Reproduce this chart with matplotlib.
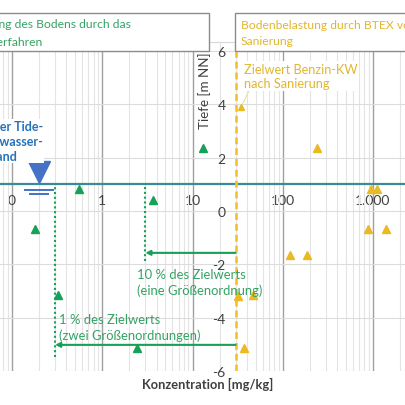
import matplotlib
matplotlib.use("Agg")
import matplotlib.pyplot as plt
import numpy as np
from matplotlib.patches import Rectangle
from matplotlib.ticker import LogLocator, NullFormatter
from matplotlib.transforms import offset_copy

plt.rcParams['font.family'] = ['Lato', 'DejaVu Sans']
plt.rcParams['axes.unicode_minus'] = False

# data
green_conc = [0.18, 0.32, 0.55, 2.4, 3.65, 13.1]
green_depth = [-0.67, -3.15, 0.83, -5.14, 0.42, 2.37]
yellow_conc = [240, 950, 1110, 880, 1390, 120, 186, 32, 47, 37]
yellow_depth = [2.37, 0.83, 0.83, -0.67, -0.67, -1.65, -1.65, -3.18, -3.15, -5.14]
note_conc, note_depth = 34.5, 3.91

zielwert = 30            # Zielwert Benzin-KW [mg/kg]
water_level = 1.0        # m NN
water_symbol_conc = 0.2
arrow_depth_10 = -1.57
arrow_depth_1 = -5.02
dotted_end_10 = -1.87
dotted_end_1 = -5.47

x_ticks = [0.1, 1, 10, 100, 1000]
x_tick_labels = ["0", "1", "10", "100", "1.000"]
y_ticks = [-6, -4, -2, 0, 2, 4, 6]
y_tick_labels = ["-6", "-4", "-2", "0", "2", "4", "6"]

GREEN = '#16A058'
GREEN_TXT = '#34A264'
YELLOW = '#E9BA22'
YELLOW_TXT = '#E2B62E'
DARK = '#404040'

W = 406.0
def fx(px):
    return px / W
def fy(py):
    return 1 - py / W

fig = plt.figure(figsize=(4.06, 4.06), dpi=100)
ax = fig.add_axes([0, fy(372), 1, fy(43) - fy(372)])
ax.set_xscale('log')
ax.set_xlim(10 ** (-1 - 12 / 90.25), 10 ** (-1 + 394 / 90.25))
ax.set_ylim(-6, 6 + 9 / 26.64)

ax.set_xticks(x_ticks, labels=x_tick_labels)
ax.xaxis.set_minor_locator(LogLocator(base=10, subs=np.arange(2, 10), numticks=20))
ax.xaxis.set_minor_formatter(NullFormatter())
ax.set_yticks(y_ticks, labels=y_tick_labels)
ax.tick_params(which='both', length=0)
ax.tick_params(axis='x', pad=7, labelsize=10, labelcolor=DARK)
ax.tick_params(axis='y', pad=7, labelsize=10, labelcolor=DARK)
for lab in ax.get_xticklabels() + ax.get_yticklabels():
    lab.set_fontweight('bold')

ax.grid(which='major', axis='x', color='#A0A0A0', lw=1)
ax.grid(which='minor', axis='x', color='#E4E4E4', lw=0.8)
ax.grid(which='major', axis='y', color='#DCDCDC', lw=0.8)

ax.spines['bottom'].set_position(('data', water_level))
ax.spines['bottom'].set_color('#3A8A9A')
ax.spines['bottom'].set_linewidth(1.6)
ax.spines['left'].set_position(('data', zielwert))
ax.spines['left'].set_visible(False)
ax.spines['right'].set_visible(False)
ax.spines['top'].set_color('#D9D9D9')
ax.spines['top'].set_linewidth(0.8)

# data points
ax.plot(green_conc, green_depth, '^', color=GREEN, ms=6, ls='none', zorder=4)
ax.plot(yellow_conc, yellow_depth, '^', color=YELLOW, ms=6, ls='none', zorder=4)
ax.plot([note_conc], [note_depth], '^', color=YELLOW, ms=4, ls='none', zorder=4)

# target value line
ax.vlines(zielwert, y_ticks[0], y_ticks[-1], colors='#F5C12B', lw=1.9,
          linestyles=(0, (2.6, 1.5)), zorder=3)

# 10 % and 1 % markers
ax.vlines(zielwert * 0.1, dotted_end_10, water_level, colors=GREEN, lw=1.5,
          linestyles=(0, (1, 1.3)), zorder=3)
ax.vlines(zielwert * 0.01, dotted_end_1, water_level, colors=GREEN, lw=1.5,
          linestyles=(0, (1, 1.3)), zorder=3)
for frac, d in [(0.1, arrow_depth_10), (0.01, arrow_depth_1)]:
    ax.annotate('', xy=(zielwert * frac, d), xytext=(zielwert, d),
                arrowprops=dict(arrowstyle='-|>', color=GREEN, lw=1.5,
                                mutation_scale=7, shrinkA=0, shrinkB=0), zorder=3)

# water level symbol
t_up = offset_copy(ax.transData, fig=fig, x=0, y=12, units='dots')
ax.plot([water_symbol_conc], [water_level], 'v', color='#4472C4', ms=16,
        transform=t_up, zorder=5, clip_on=False)
t_l1 = offset_copy(ax.transData, fig=fig, x=0, y=-6, units='dots')
ax.plot([water_symbol_conc], [water_level], '_', color='#4472C4', ms=21.6,
        mew=1.4, transform=t_l1, zorder=5)
t_l2 = offset_copy(ax.transData, fig=fig, x=0, y=-10, units='dots')
ax.plot([water_symbol_conc], [water_level], '_', color='#4472C4', ms=14.4,
        mew=1.4, transform=t_l2, zorder=5)

# annotations
fig.text(fx(43), fy(142), "Mittlerer Tide-\nniedrigwasser-\nstand", ha='right',
         va='center', multialignment='center', fontsize=9, fontweight='bold',
         color='#2473B8', linespacing=1.3,
         bbox=dict(facecolor='white', edgecolor='none', pad=1))
fig.text(fx(137), fy(283), "10 % des Zielwerts\n(eine Größenordnung)", ha='left',
         va='center', fontsize=9.4, color=GREEN_TXT, linespacing=1.25)
fig.text(fx(59), fy(328), "1 % des Zielwerts\n(zwei Größenordnungen)", ha='left',
         va='center', fontsize=9.4, color=GREEN_TXT, linespacing=1.25)
ax.annotate("Zielwert Benzin-KW\nnach Sanierung", xy=(note_conc, note_depth),
            xytext=(fx(244), fy(77)), textcoords='figure fraction',
            ha='left', va='center', fontsize=9.2, color=YELLOW_TXT, linespacing=1.3,
            bbox=dict(facecolor='white', edgecolor='none', pad=1),
            arrowprops=dict(arrowstyle='-', color='#E9DDB0', lw=0.8,
                            shrinkA=0, shrinkB=2, relpos=(0.05, 0)), zorder=6)

# title boxes at the top
fig.add_artist(Rectangle((fx(-3), fy(52)), fx(212), fy(14) - fy(52),
                         transform=fig.transFigure, facecolor='white',
                         edgecolor='#8C8C8C', lw=1))
fig.add_artist(Rectangle((fx(235), fy(52)), fx(180), fy(14) - fy(52),
                         transform=fig.transFigure, facecolor='white',
                         edgecolor='#8C8C8C', lw=1))
fig.text(fx(131), fy(25), "Reinigung des Bodens durch das",
         ha='right', va='center', fontsize=8.7, color=GREEN_TXT)
fig.text(fx(43), fy(42), "Waschverfahren",
         ha='right', va='center', fontsize=8.7, color=GREEN_TXT)
fig.text(fx(241), fy(33.5), "Bodenbelastung durch BTEX vor\nSanierung",
         ha='left', va='center', fontsize=8.7, color=YELLOW_TXT, linespacing=1.45)

# axis titles
fig.text(fx(208), fy(384), "Konzentration [mg/kg]", ha='center', va='center',
         fontsize=9.3, fontweight='bold', color=DARK)
fig.text(fx(205), fy(91), "Tiefe [m NN]", rotation=90, ha='center', va='center',
         fontsize=9.6, color=DARK)

fig.savefig("out.png", dpi=100, facecolor='white')
